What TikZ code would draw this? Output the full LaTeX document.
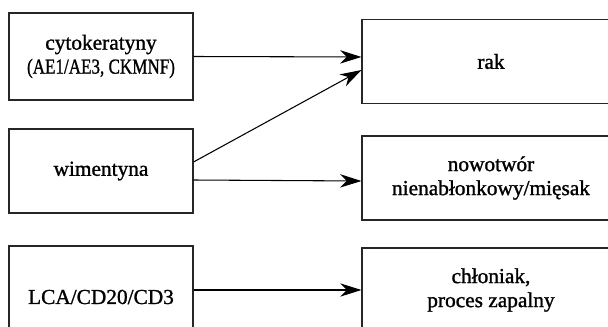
\documentclass[tikz,border=0pt]{standalone}
\usepackage{fontspec}
\setmainfont[FakeBold=1.2]{Liberation Serif}
\usetikzlibrary{arrows.meta}
\begin{document}
\begin{tikzpicture}[x=0.75pt,y=-0.75pt,
  box/.style={draw=black!85,line width=0.8pt,align=center,inner sep=0pt,
    font=\fontsize{16pt}{18pt}\selectfont},
  lbox/.style={box,minimum width=138pt},
  rbox/.style={box,minimum width=193.5pt},
  arr/.style={line width=0.8pt,-{Stealth[length=16pt,width=10pt,inset=5pt]}}]
\useasboundingbox (0,0) rectangle (608,326);
\clip (0,0) rectangle (608,326);
\node[lbox,minimum height=65.25pt] (l1) at (101,56.5) {cytokeratyny\\\scalebox{0.8}[1]{(AE1/AE3, CKMNF)}};
\node[lbox,minimum height=63pt] (l2) at (101,171) {wimentyna};
\node[lbox,minimum height=76.5pt] (l3) at (101,297) {LCA/CD20/CD3};
\node[rbox,minimum height=63pt] (r1) at (491,61.5) {rak};
\node[rbox,minimum height=63pt] (r2) at (491,178) {nowotwór\\nienabłonkowy/mięsak};
\node[rbox,minimum height=63pt] (r3) at (491,290) {chłoniak,\\proces zapalny};
\draw[arr] (l1.east) -- ([yshift=3.4pt]r1.west);
\draw[arr] ([yshift=6.75pt]l2.east) -- ([yshift=-6.4pt]r1.west);
\draw[arr] ([yshift=-6.75pt]l2.east) -- ([yshift=-2.25pt]r2.west);
\draw[arr] ([yshift=5.25pt]l3.east) -- (r3.west);
\end{tikzpicture}
\end{document}
